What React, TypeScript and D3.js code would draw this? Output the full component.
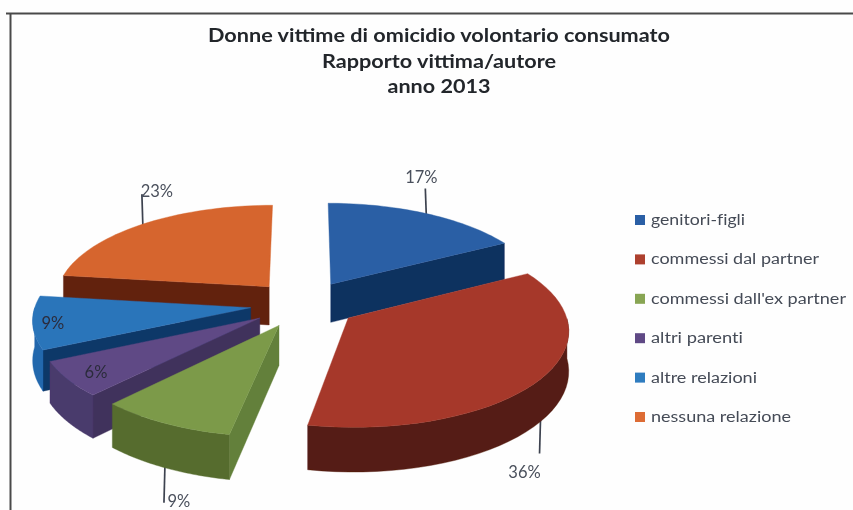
import React from "react";
import * as d3 from "d3";

const categories = ["genitori-figli", "commessi dal partner", "commessi dall'ex partner", "altri parenti", "altre relazioni", "nessuna relazione"];
const values = [17, 36, 9, 6, 9, 23];
const labels = ["17%", "36%", "9%", "6%", "9%", "23%"];
const topColors = ["#2b5fa5", "#a6392c", "#7b9a4a", "#5f4a85", "#2a74ba", "#d6652d"];
const sideColors = ["#10305f", "#541b12", "#63803a", "#41315c", "#0f3768", "#62210f"];
const rimColors = ["#10305f", "#541b12", "#566c2e", "#4a3a6c", "#2167ad", "#62210f"];
const legendColors = ["#2b5fa5", "#ad3f2e", "#88a552", "#5f4a85", "#2f7bbf", "#dd6c35"];
const titleLines = ["Donne vittime di omicidio volontario consumato", "Rapporto vittima/autore", "anno 2013"];
const titleWidths = [462, 234, 103];
const legendWidths = [94, 168, 195, 92, 106, 140];

// draw order, back to front
const paintOrder = [5, 0, 4, 3, 2, 1];
// leader length per slice (0 = label sits on the slice), label offset from the rim point
const leaderLen = [-25, 32, 35, 0, 0, -30];
const labelOffset: [number, number][] = [[-5, -31], [-16, 56], [14, 39], [-2, 9], [-13, 9], [14, -27]];

const W = 853, H = 510;
const cx = 304, cy = 304, A = 215, B = 94, K = 0.11, EXPLODE = 0.25, DEPTH = 39;

function project(X: number, Y: number): [number, number] {
  const s = 1 / (1 - K * Y);
  return [cx + A * X * s, cy + B * Y * s];
}

const pieGen = d3.pie<number>().sort(null).value((d) => d);
const arcs = pieGen(values);
const lineGen = d3.line();

function sliceGeom(i: number) {
  const { startAngle: a0, endAngle: a1 } = arcs[i];
  const mid = (a0 + a1) / 2;
  const ox = EXPLODE * Math.sin(mid), oy = -EXPLODE * Math.cos(mid);
  const pt = (r: number, a: number) => project(ox + r * Math.sin(a), oy - r * Math.cos(a));
  const apex = pt(0, 0);
  const angles = d3.range(0, 41).map((k) => a0 + ((a1 - a0) * k) / 40);
  const rim = angles.map((a) => pt(1, a));
  const frontRim = angles.filter((a) => Math.cos(a) < 0).map((a) => pt(1, a));
  const down = (p: [number, number]) => {
    const Y = (p[1] - cy) / B;
    const Yw = Y / (1 + K * Y);
    const s = 1 / (1 - K * Yw);
    return [p[0], p[1] + DEPTH * s] as [number, number];
  };
  return { apex, rim, frontRim, down, mid, pt, a0, a1 };
}

function wallPaths(i: number) {
  const { apex, rim, frontRim, down, a0, a1 } = sliceGeom(i);
  const first = rim[0], last = rim[rim.length - 1];
  const walls: { d: string; fill: string }[] = [];
  const face = (c: [number, number]) => lineGen([apex, c, down(c), down(apex)] as [number, number][]) + "Z";
  if (Math.sin(a0) < -1e-6) walls.push({ d: face(first), fill: sideColors[i] });
  if (Math.sin(a1) > 1e-6) walls.push({ d: face(last), fill: sideColors[i] });
  if (frontRim.length > 1) {
    const outer = [...frontRim, ...frontRim.slice().reverse().map(down)] as [number, number][];
    walls.push({ d: lineGen(outer) + "Z", fill: rimColors[i] });
  }
  return walls;
}

function topPath(i: number) {
  const { apex, rim } = sliceGeom(i);
  return lineGen([apex, ...rim] as [number, number][]) + "Z";
}

export default function App() {
  const legendY = d3.scalePoint<string>().domain(categories).range([220, 417]);
  return (
    <svg width={W} height={H} style={{ position: "absolute", left: 0, top: 0 }}>
      <defs>
        <filter id="scan" x="-2%" y="-2%" width="104%" height="104%">
          <feGaussianBlur stdDeviation="0.55" />
        </filter>
      </defs>
      <rect width={W} height={H} fill="#fefefe" />
      <g filter="url(#scan)">
        <path d="M6 13.5H853M10.5 13V510" fill="none" stroke="#4a4a4a" strokeWidth={2} />
        <g fontFamily="Lato, 'Open Sans', sans-serif" fontWeight={700} fontSize={18} fill="#23262c" textAnchor="middle">
          {titleLines.map((t, i) => (
            <text key={t} x={439} y={42 + i * 25.5} textLength={titleWidths[i]} lengthAdjust="spacingAndGlyphs">{t}</text>
          ))}
        </g>
        {paintOrder.map((i) => {
          const g = sliceGeom(i);
          if (!leaderLen[i]) return null;
          const p = g.pt(1, g.mid);
          const base = leaderLen[i] > 0 ? g.down(p) : p;
          return (
            <line key={i} x1={base[0]} y1={base[1] - Math.sign(leaderLen[i]) * 3} x2={base[0] - 1} y2={base[1] + leaderLen[i]} stroke="#3d4350" strokeWidth={1.7} />
          );
        })}
        {paintOrder.map((i) => (
          <g key={categories[i]}>
            {wallPaths(i).map((w, k) => (
              <path key={k} d={w.d} fill={w.fill} stroke={w.fill} strokeWidth={0.4} />
            ))}
            <path d={topPath(i)} fill={topColors[i]} stroke={topColors[i]} strokeWidth={0.4} />
          </g>
        ))}
        <g fontFamily="Lato, 'Open Sans', sans-serif" fontSize={16.5}>
          {labels.map((t, i) => {
            const g = sliceGeom(i);
            const p = g.pt(leaderLen[i] ? 1 : 0.85, g.mid);
            const base = leaderLen[i] > 0 ? g.down(p) : p;
            return (
              <text key={i} x={base[0] + labelOffset[i][0]} y={base[1] + labelOffset[i][1]} textAnchor="middle" fill={leaderLen[i] ? "#4a505c" : "#2c2c3c"}>{t}</text>
            );
          })}
        </g>
        {categories.map((c, i) => (
          <g key={c}>
            <rect x={635} y={legendY(c)! - 5} width={10} height={10} fill={legendColors[i]} />
            <text x={651} y={legendY(c)! + 5} fontFamily="Lato, 'Open Sans', sans-serif" fontSize={15.5} fill="#454b57" textLength={legendWidths[i]} lengthAdjust="spacingAndGlyphs" style={{ fontVariantLigatures: "none" }}>{c}</text>
          </g>
        ))}
      </g>
    </svg>
  );
}
